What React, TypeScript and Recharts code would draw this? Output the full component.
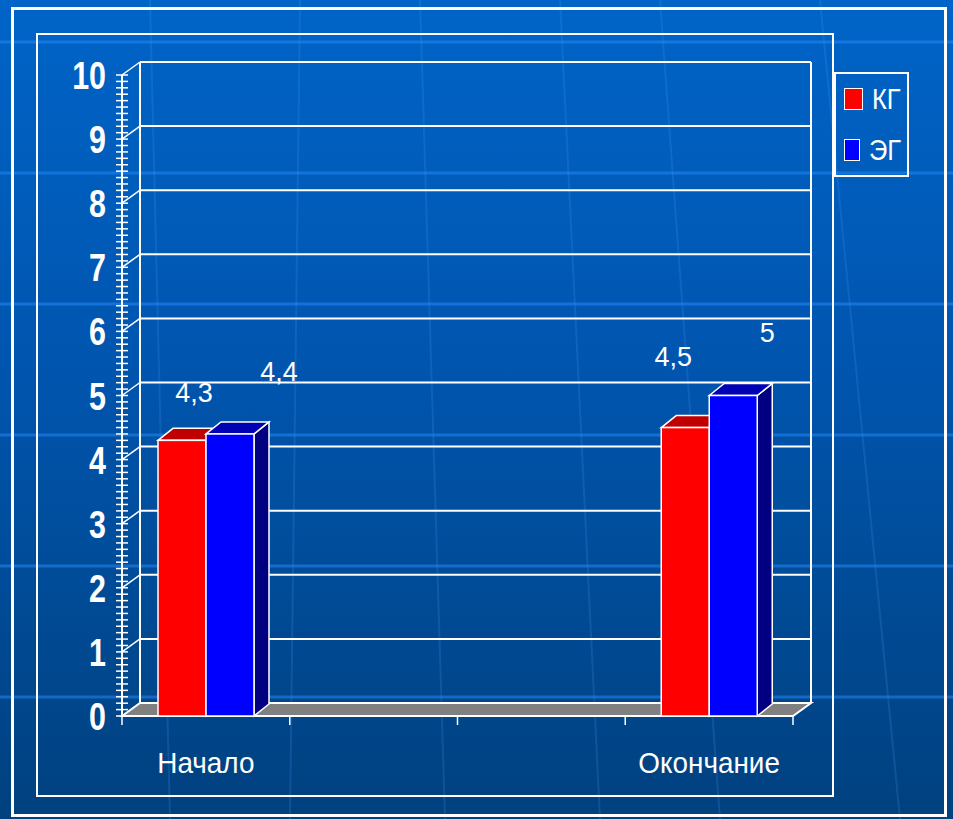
import React from 'react';
import { BarChart, Bar, XAxis, YAxis, CartesianGrid, Legend, LabelList } from 'recharts';

// categories: the two middle slots are empty in the original slide
const categories = ['Начало', '', '', 'Окончание'];
const kgValues: (number | null)[] = [4.3, null, null, 4.5];
const egValues: (number | null)[] = [4.4, null, null, 5];
const yTicks = [0, 1, 2, 3, 4, 5, 6, 7, 8, 9, 10];
const yMinorTicks = Array.from({ length: 101 }, (_, i) => i / 10);

const data = categories.map((name, i) => ({ name, kg: kgValues[i], eg: egValues[i] }));

const W = 953;
const H = 819;
const PLOT_LEFT = 122;
const PLOT_RIGHT = 793;
const PLOT_TOP = 75;
const PLOT_BOTTOM = 716;
const SLOT = (PLOT_RIGHT - PLOT_LEFT) / categories.length;
const DEPTH_X = 18;
const DEPTH_Y = 13;
const BAR_DX = 15;
const BAR_DY = 12;
const FONT = '"Liberation Sans", Arial, sans-serif';

// hand placed label offsets from the top centre of each bar, by category slot
const kgLabelNudge = [[12, -48], [0, 0], [0, 0], [-12, -72]];
const egLabelNudge = [[49, -63], [0, 0], [0, 0], [34, -64]];

const gridH = (p: any) => {
    const { x1, y1, x2, index } = p;
    if (index === 0) {
        return (
            <g key={`h-${index}`}>
                <polygon
                    points={`${x1},${y1} ${x1 + DEPTH_X},${y1 - DEPTH_Y} ${x2 + DEPTH_X},${y1 - DEPTH_Y} ${x2},${y1}`}
                    fill="#808080"
                    stroke="#ffffff"
                    strokeWidth={2}
                />
            </g>
        );
    }
    return (
        <g key={`h-${index}`}>
            <line x1={x1} y1={y1} x2={x1 + DEPTH_X} y2={y1 - DEPTH_Y} stroke="#ffffff" strokeWidth={1.5} />
            <line x1={x1 + DEPTH_X} y1={y1 - DEPTH_Y} x2={x2 + DEPTH_X} y2={y1 - DEPTH_Y} stroke="#ffffff" strokeWidth={2} />
        </g>
    );
};

const gridV = (p: any) => {
    const { x1, y1, x2, y2, index } = p;
    return <line key={`v-${index}`} x1={x1} y1={y1 - DEPTH_Y} x2={x2} y2={y2 - DEPTH_Y} stroke="#ffffff" strokeWidth={2} />;
};

const YTick = (props: any) => {
    const { x, y, payload } = props;
    const v = payload.value;
    const major = Math.abs(v - Math.round(v)) < 1e-6;
    return (
        <g>
            <line x1={x - 6} y1={y} x2={x + 6} y2={y} stroke="#ffffff" strokeWidth={1.5} />
            {major && (
                <text
                    transform={`translate(${x - 16},${y + 14}) scale(0.78,1)`}
                    textAnchor="end"
                    fill="#ffffff"
                    fontFamily={FONT}
                    fontWeight="bold"
                    fontSize={39}
                >
                    {Math.round(v)}
                </text>
            )}
        </g>
    );
};

const XTick = (props: any) => {
    const { x, y, payload, index } = props;
    return (
        <g>
            {index === 0 && <line x1={x - SLOT / 2} y1={y} x2={x - SLOT / 2} y2={y + 9} stroke="#ffffff" strokeWidth={1.5} />}
            <line x1={x + SLOT / 2} y1={y} x2={x + SLOT / 2} y2={y + 9} stroke="#ffffff" strokeWidth={1.5} />
            <text transform={`translate(${x},${y + 57}) scale(0.93,1)`} textAnchor="middle" fill="#ffffff" fontFamily={FONT} fontSize={30}>
                {payload.value}
            </text>
        </g>
    );
};

const Bar3D = (props: any) => {
    const { x, y, width, height, fill, topFill, sideFill } = props;
    if (height == null || height <= 0) return null;
    const r = x + width;
    const b = y + height;
    return (
        <g>
            <polygon
                points={`${r},${y} ${r + BAR_DX},${y - BAR_DY} ${r + BAR_DX},${b - BAR_DY} ${r},${b}`}
                fill={sideFill}
                stroke="#ffffff"
                strokeWidth={1.5}
            />
            <polygon
                points={`${x},${y} ${x + BAR_DX},${y - BAR_DY} ${r + BAR_DX},${y - BAR_DY} ${r},${y}`}
                fill={topFill}
                stroke="#ffffff"
                strokeWidth={1.5}
            />
            <rect x={x} y={y} width={width} height={height} fill={fill} stroke="#ffffff" strokeWidth={1.5} />
        </g>
    );
};

const makeLabel = (nudges: number[][]) => (props: any) => {
    const { x, y, width, value } = props;
    if (value == null) return null;
    const slot = Math.max(0, Math.min(categories.length - 1, Math.floor((x + width / 2 - PLOT_LEFT) / SLOT)));
    const [dx, dy] = nudges[slot];
    return (
        <text x={x + width / 2 + dx} y={y + dy + 10} textAnchor="middle" fill="#ffffff" fontFamily={FONT} fontSize={27}>
            {String(value).replace('.', ',')}
        </text>
    );
};

const LegendBox = (props: any) => {
    const { payload } = props;
    return (
        <div
            style={{
                width: 75,
                height: 105,
                border: '2px solid #ffffff',
                boxSizing: 'border-box',
                display: 'flex',
                flexDirection: 'column',
                justifyContent: 'space-around',
                paddingLeft: 8,
            }}
        >
            {(payload || []).map((item: any) => (
                <div key={item.value} style={{ display: 'flex', alignItems: 'center' }}>
                    <span
                        style={{
                            display: 'inline-block',
                            width: 17,
                            height: 20,
                            background: item.color,
                            border: '1.5px solid #ffffff',
                            marginRight: 9,
                        }}
                    />
                    <span
                        style={{
                            color: '#ffffff',
                            fontFamily: FONT,
                            fontSize: 30,
                            lineHeight: '30px',
                            display: 'inline-block',
                            transform: 'scaleX(0.85)',
                            transformOrigin: 'left center',
                        }}
                    >
                        {item.value}
                    </span>
                </div>
            ))}
        </div>
    );
};

const bgLinesY = [42, 173, 304, 435, 566, 697];
const bgSlants = [
    [150, 0, 170, 819],
    [300, 0, 290, 819],
    [420, 0, 445, 819],
    [560, 0, 600, 819],
    [660, 0, 720, 819],
    [820, 0, 900, 819],
];

export default function App() {
    return (
        <div
            style={{
                position: 'absolute',
                left: 0,
                top: 0,
                width: W,
                height: H,
                overflow: 'hidden',
                background: 'linear-gradient(to bottom, #0064c8 0%, #0055ae 45%, #00417f 100%)',
                fontFamily: FONT,
            }}
        >
            <svg width={W} height={H} style={{ position: 'absolute', left: 0, top: 0 }}>
                {bgSlants.map(([a, b, c, d], i) => (
                    <line key={i} x1={a} y1={b} x2={c} y2={d} stroke="rgba(80,160,255,0.18)" strokeWidth={2} />
                ))}
                {bgLinesY.map((y) => (
                    <rect key={y} x={0} y={y - 1.5} width={W} height={3} fill="rgba(40,140,255,0.5)" />
                ))}
            </svg>
            <div style={{ position: 'absolute', left: 11, top: 7, width: 936, height: 810, border: '3px solid #ffffff', boxSizing: 'border-box' }} />
            <div style={{ position: 'absolute', left: 36, top: 33, width: 798, height: 764, border: '2px solid #ffffff', boxSizing: 'border-box' }} />
            <div style={{ position: 'absolute', left: 0, top: 0 }}>
                <BarChart
                    width={W}
                    height={H}
                    data={data}
                    margin={{ top: PLOT_TOP, right: W - PLOT_RIGHT, bottom: H - PLOT_BOTTOM - 60, left: PLOT_LEFT - 60 }}
                    barCategoryGap={36}
                    barGap={0}
                >
                    <CartesianGrid
                        horizontalValues={yTicks}
                        verticalPoints={[PLOT_LEFT + DEPTH_X, PLOT_RIGHT + DEPTH_X]}
                        horizontal={gridH}
                        vertical={gridV}
                    />
                    <XAxis dataKey="name" height={60} interval={0} axisLine={false} tickLine={false} tickSize={0} tickMargin={0} tick={<XTick />} />
                    <YAxis
                        width={60}
                        domain={[0, 10]}
                        ticks={yMinorTicks}
                        interval={0}
                        allowDecimals
                        axisLine={{ stroke: '#ffffff', strokeWidth: 2 }}
                        tickLine={false}
                        tickSize={0}
                        tickMargin={0}
                        tick={<YTick />}
                    />
                    <Legend
                        layout="vertical"
                        align="center"
                        verticalAlign="middle"
                        content={<LegendBox />}
                        wrapperStyle={{ left: 834, top: 72, width: 75, height: 105 }}
                    />
                    <Bar
                        dataKey="kg"
                        name="КГ"
                        fill="#ff0000"
                        isAnimationActive={false}
                        shape={(p: any) => <Bar3D {...p} topFill="#c00000" sideFill="#800000" />}
                    >
                        <LabelList dataKey="kg" content={makeLabel(kgLabelNudge)} />
                    </Bar>
                    <Bar
                        dataKey="eg"
                        name="ЭГ"
                        fill="#0000ff"
                        isAnimationActive={false}
                        shape={(p: any) => <Bar3D {...p} topFill="#0000b4" sideFill="#000080" />}
                    >
                        <LabelList dataKey="eg" content={makeLabel(egLabelNudge)} />
                    </Bar>
                </BarChart>
            </div>
        </div>
    );
}
